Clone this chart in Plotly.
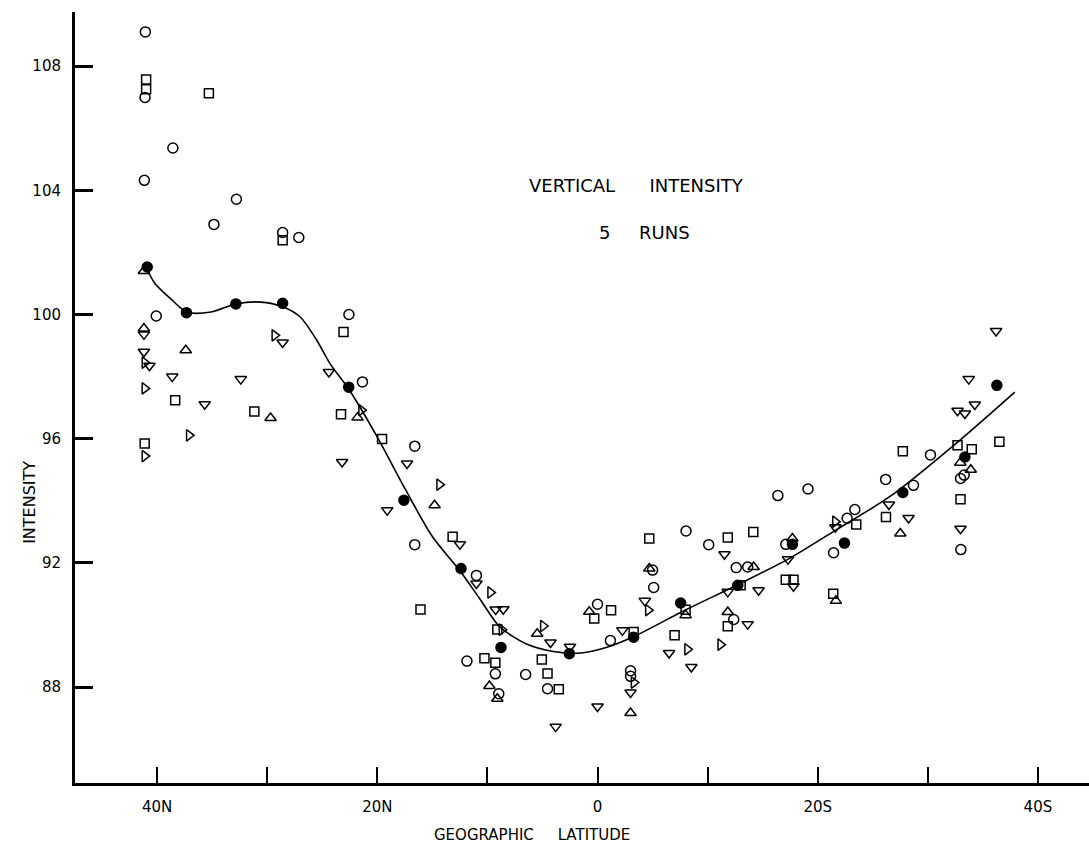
import plotly.graph_objects as go

# ---- data (latitude: N positive, S negative; intensity) ----
circ_lat = [41.07, 41.1, 38.57, 41.16, 32.8, 34.84, 28.6, 27.13, 40.08, 22.58, 21.35, 16.6, 16.6,
            11.0, 11.86, 9.28, 8.97, 6.53, 4.54, 0.0, -1.17, -3.0, -3.0, -5.0, -5.1, -8.04, -12.37,
            -10.1, -12.6, -13.64, -16.38, -19.12, -17.1, -22.67, -23.37, -21.44, -26.17, -30.24,
            -28.7, -32.97, -33.3, -33.0]
circ_val = [109.1, 106.99, 105.36, 104.32, 103.71, 102.9, 102.64, 102.48, 99.95, 100.0, 97.83, 95.76, 92.59,
            91.6, 88.84, 88.43, 87.79, 88.41, 87.95, 90.67, 89.5, 88.53, 88.35, 91.77, 91.21, 93.03, 90.18,
            92.59, 91.85, 91.87, 94.17, 94.38, 92.6, 93.44, 93.72, 92.33, 94.69, 95.48,
            94.5, 94.72, 94.83, 92.43]

sq_lat = [41.0, 41.0, 35.3, 28.6, 38.36, 31.17, 41.13, 23.07, 23.3, 19.57, 13.16, 16.08, 9.1, 10.27,
          9.28, 5.06, 4.54, 3.52, 0.3, -1.23, -3.28, -4.7, -8.0, -7.0, -11.83, -14.15, -13.0, -11.83,
          -17.1, -17.8, -21.41, -23.5, -26.2, -27.73, -32.7, -33.99, -32.97, -36.5]
sq_val = [107.57, 107.25, 107.12, 102.39, 97.24, 96.88, 95.85, 99.44, 96.79, 95.99, 92.84, 90.5, 89.86, 88.93,
          88.79, 88.89, 88.44, 87.93, 90.21, 90.48, 89.78, 92.79, 90.49, 89.67, 92.82, 93.0, 91.28, 89.96,
          91.46, 91.46, 91.01, 93.24, 93.48, 95.6, 95.79, 95.66, 94.05, 95.9]

up_lat = [41.2, 41.2, 37.4, 29.7, 21.8, 14.8, 9.82, 9.1, 5.48, 0.75, -3.0, -4.7, -8.0, -11.83,
          -14.18, -17.7, -21.65, -27.5, -32.95, -33.9]
up_val = [101.4, 99.55, 98.85, 96.67, 96.68, 93.86, 88.04, 87.63, 89.72, 90.43, 87.17, 91.82, 90.32, 90.42,
          91.87, 92.79, 90.78, 92.95, 95.23, 95.0]

dn_lat = [41.2, 41.2, 40.7, 38.63, 32.4, 35.68, 28.6, 24.4, 23.2, 17.3, 19.1, 12.5, 11.0, 9.25, 8.56,
          4.27, 2.5, 3.8, 0.0, -2.26, -3.0, -4.3, -6.5, -8.52, -11.53, -11.83, -14.63, -13.64, -17.3,
          -17.8, -21.6, -26.47, -28.25, -36.2, -33.72, -34.27, -32.7, -33.37, -32.97]
dn_val = [99.36, 98.8, 98.35, 98.0, 97.92, 97.11, 99.1, 98.15, 95.25, 95.2, 93.7, 92.6, 91.34, 90.5, 90.51,
          89.44, 89.3, 86.73, 87.38, 89.83, 87.83, 90.78, 89.1, 88.65, 92.28, 91.07, 91.12, 90.03, 92.12,
          91.25, 93.15, 93.88, 93.45, 99.47, 97.92, 97.1, 96.9, 96.81, 93.1]

rt_lat = [41.13, 41.13, 41.13, 37.1, 29.33, 21.45, 14.36, 9.73, 8.7, 4.94, -3.3, -4.6, -8.16, -11.17, -21.59]
rt_val = [98.45, 97.62, 95.44, 96.11, 99.33, 96.92, 94.52, 91.05, 89.85, 89.97, 88.15, 90.48, 89.22, 89.37, 93.33]

mean_lat = [40.9, 37.34, 32.85, 28.6, 22.6, 17.59, 12.4, 8.77, 2.56, -3.28, -7.55, -12.74, -17.7,
            -22.43, -27.73, -33.37, -36.27]
mean_val = [101.53, 100.06, 100.34, 100.36, 97.66, 94.02, 91.82, 89.28, 89.08, 89.61, 90.71, 91.28, 92.6,
            92.64, 94.27, 95.41, 97.72]

curve_lat = [40.9, 40.2, 38.75, 37.3, 35.1, 32.85, 30.6, 28.6, 27.0, 25.5, 24.3, 22.6, 20.0,
             17.5, 15.0, 12.4, 10.7, 8.9, 6.5, 4.0, 1.5, -1.0, -3.3, -8.07, -12.74, -17.4,
             -21.6, -26.6, -32.9, -37.9]
curve_val = [101.45, 101.0, 100.5, 100.08, 100.08, 100.34, 100.4, 100.25, 99.92, 99.17, 98.42, 97.6, 96.05,
             94.4, 92.85, 91.7, 90.85, 89.95, 89.4, 89.15, 89.1, 89.3, 89.63, 90.5, 91.3, 92.14,
             93.05, 94.15, 95.95, 97.5]

xtick_vals = [40, 30, 20, 10, 0, -10, -20, -30, -40]
xtick_text = ["40N", "", "20N", "", "0", "", "20S", "", "40S"]
ytick_vals = [88, 92, 96, 100, 104, 108]

FONT = "DejaVu Sans"
fig = go.Figure()

fig.add_trace(go.Scatter(x=curve_lat, y=curve_val, mode="lines",
                         line=dict(color="black", width=1.6, shape="spline", smoothing=0.8),
                         hoverinfo="skip", showlegend=False))

def add_pts(xs, ys, sym, size):
    fig.add_trace(go.Scatter(x=xs, y=ys, mode="markers", showlegend=False,
                             marker=dict(symbol=sym, size=size, color="black",
                                         line=dict(color="black", width=1.5))))

add_pts(circ_lat, circ_val, "circle-open", 10)
add_pts(sq_lat, sq_val, "square-open", 9)
add_pts(up_lat, up_val, "triangle-up-open", 10)
add_pts(dn_lat, dn_val, "triangle-down-open", 10)
add_pts(rt_lat, rt_val, "triangle-right-open", 10)
add_pts(mean_lat, mean_val, "circle", 10)

fig.update_layout(
    width=1089, height=848,
    margin=dict(l=75, r=0, t=12, b=65),
    paper_bgcolor="white", plot_bgcolor="white",
    font=dict(family=FONT, color="black"),
    xaxis=dict(range=[47.46, -44.64], showgrid=False, zeroline=False,
               showline=True, linecolor="black", linewidth=3,
               tickmode="array", tickvals=xtick_vals, ticktext=xtick_text,
               ticks="inside", ticklen=16, tickwidth=2, tickcolor="black",
               ticklabelstandoff=8, tickfont=dict(size=15, family=FONT)),
    yaxis=dict(range=[84.915, 109.74], showgrid=False, zeroline=False,
               showline=True, linecolor="black", linewidth=3,
               tickmode="array", tickvals=ytick_vals,
               ticks="inside", ticklen=18, tickwidth=3, tickcolor="black",
               ticklabelstandoff=8, tickfont=dict(size=15, family=FONT)),
    annotations=[
        dict(text="VERTICAL&nbsp;&nbsp;&nbsp;&nbsp;&nbsp;&nbsp;INTENSITY", x=-3.5, y=104.16, xref="x", yref="y",
             showarrow=False, font=dict(size=18, family=FONT)),
        dict(text="5&nbsp;&nbsp;&nbsp;&nbsp;&nbsp;RUNS", x=-4.3, y=102.65, xref="x", yref="y",
             showarrow=False, font=dict(size=18, family=FONT)),
        dict(text="INTENSITY", x=-0.0562, y=0.364, xref="paper", yref="paper",
             textangle=-90, showarrow=False, font=dict(size=16, family=FONT)),
        dict(text="GEOGRAPHIC&nbsp;&nbsp;&nbsp;&nbsp;&nbsp;LATITUDE", x=0.4507, y=-0.068, xref="paper", yref="paper",
             showarrow=False, yanchor="middle", font=dict(size=15, family=FONT)),
    ],
)

fig.write_html("out.html", config={"displayModeBar": False},
               post_script="document.body.style.margin='0';")
